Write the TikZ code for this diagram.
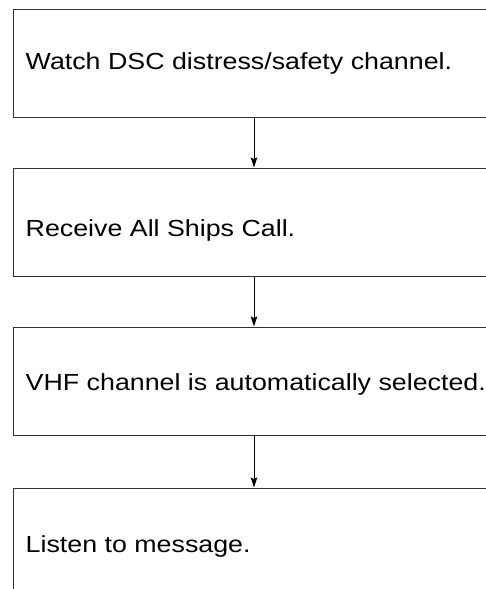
\documentclass[tikz,border=0pt]{standalone}
\usepackage{fontspec}
\setmainfont{Liberation Sans}
\usetikzlibrary{arrows.meta}
\tikzset{
  stepbox/.style={draw=black!80, line width=1pt, rectangle, minimum width=487pt, minimum height=108pt, inner sep=0pt},
  steptext/.style={anchor=base west, inner sep=0pt, font=\fontsize{23.3pt}{27pt}\selectfont},
  flow/.style={line width=0.9pt, -{Stealth[length=10pt, width=6.5pt, inset=1.5pt]}},
}
\newcommand{\wtext}[1]{\scalebox{1.15}[1]{#1}}
\begin{document}
\begin{tikzpicture}[x=1pt, y=-1pt]
\useasboundingbox (0,0) rectangle (486,589);
\fill[white] (0,0) rectangle (486,589);
\clip (0,0) rectangle (486,589);
\node[stepbox] (b1) at (256.5,63) {};
\node[stepbox] (b2) at (256.5,222) {};
\node[stepbox] (b3) at (256.5,381) {};
\node[stepbox] (b4) at (256.5,542) {};
\node[steptext] (t1) at (25.5,69) {\wtext{Watch DSC distress/safety channel.}};
\node[steptext] (t2) at (25.5,236) {\wtext{Receive All Ships Call.}};
\node[steptext] (t3) at (25.5,390) {\wtext{VHF channel is automatically selected.}};
\node[steptext] (t4) at (25.5,552) {\wtext{Listen to message.}};
\coordinate (ax) at (254,0);
\draw[flow] (b1.south -| ax) -- (b2.north -| ax);
\draw[flow] (b2.south -| ax) -- (b3.north -| ax);
\draw[flow] (b3.south -| ax) -- (b4.north -| ax);
\end{tikzpicture}
\end{document}
